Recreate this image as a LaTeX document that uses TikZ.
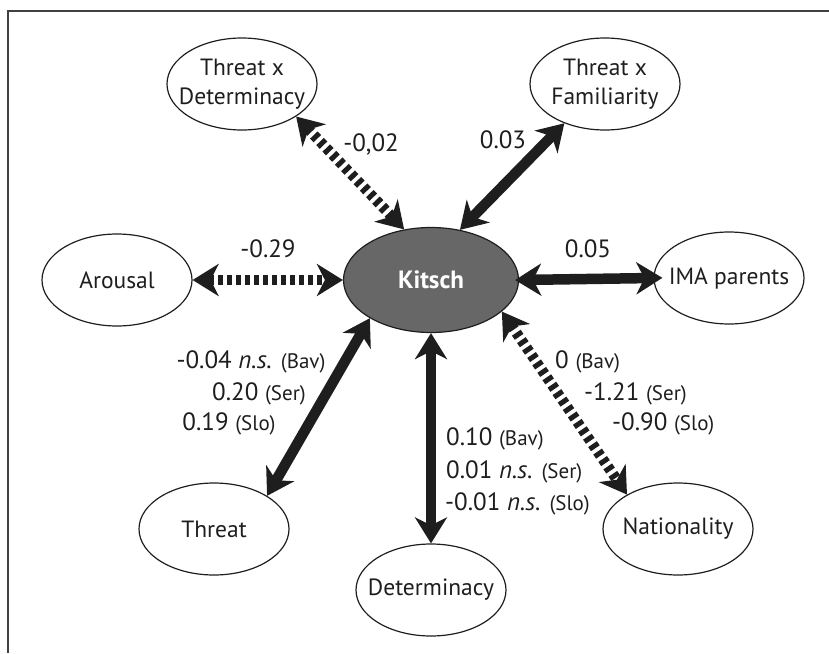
\documentclass[tikz,border=0pt]{standalone}
\usepackage{fontspec}
\setmainfont{PT Sans}
\usetikzlibrary{arrows.meta,shapes.geometric}
\definecolor{ink}{HTML}{1E1E1E}
\definecolor{kitschgray}{HTML}{676767}
\newcommand{\numfont}{\fontsize{25}{28}\selectfont}
\newcommand{\subfont}{\fontsize{21}{24}\selectfont}
\newcommand{\varfont}{\fontsize{23.5}{29}\selectfont}
\begin{document}
\begin{tikzpicture}[x=1pt,y=-1pt,
  var/.style={ellipse, draw=ink, line width=1.2pt, minimum width=150pt, minimum height=92pt,
    inner xsep=-15pt, inner ysep=0pt, align=center, font=\varfont, text=ink},
  solidlink/.style={line width=10.5pt, draw=ink,
    {Stealth[length=26pt,width=32pt,inset=8pt]}-{Stealth[length=26pt,width=32pt,inset=8pt]}},
  dashlink/.style={solidlink, dash pattern=on 5pt off 4pt},
  lab/.style={font=\numfont, text=ink, inner sep=0pt},
]
\useasboundingbox (0,0) rectangle (829,653);
\draw[line width=1.8pt, draw=black!75] (829,11) -- (8,11) -- (8,653);

\node[var] (txd) at (242,84) {Threat x\\Determinacy};
\node[var] (txf) at (605,84) {Threat x\\Familiarity};
\node[var] (arousal) at (117,280) {Arousal};
\node[var] (ima) at (729,278) {IMA parents};
\node[var] (threat) at (214,529) {Threat};
\node[var] (det) at (431,590) {Determinacy};
\node[var] (nat) at (678,529) {Nationality};
\node[ellipse, draw=ink, line width=1.2pt, fill=kitschgray, minimum width=175pt, minimum height=105pt,
  inner sep=0pt, text=white, font=\fontsize{25}{29}\selectfont\bfseries] (kitsch) at (431,280) {Kitsch};

\draw[dashlink] (txd.-31) -- (kitsch.118);
\draw[solidlink] (txf.224) -- (kitsch.60);
\draw[dashlink] (arousal.east) -- (kitsch.west);
\draw[solidlink, shorten <=-4pt, shorten >=-9pt] (kitsch.east) -- (ima.west);
\draw[solidlink] (kitsch.212) -- (threat.32);
\draw[solidlink] (kitsch.south) -- (det.north);
\draw[dashlink] (kitsch.-24) -- (nat.146);

\node[lab, anchor=base] (l1) at (371,151) {-0,02};
\node[lab, anchor=base] (l2) at (503,148) {0.03};
\node[lab, anchor=base] (l3) at (268,257) {-0.29};
\node[lab, anchor=base] (l4) at (588,257) {0.05};

\node[lab, anchor=base] (t1) at (251,368) {-0.04 \textit{n.s.} {\subfont (Bav)}};
\node[lab, anchor=base] (t2) at (259,400) {0.20 {\subfont (Ser)}};
\node[lab, anchor=base] (t3) at (229,430) {0.19 {\subfont (Slo)}};

\node[lab, anchor=base west] (d1) at (446,445) {0.10 {\subfont (Bav)}};
\node[lab, anchor=base west] (d2) at (446,478) {0.01 \textit{n.s.} {\subfont (Ser)}};
\node[lab, anchor=base west] (d3) at (445,510) {-0.01 \textit{n.s.} {\subfont (Slo)}};

\node[lab, anchor=base west] (n1) at (555,368) {0 {\subfont (Bav)}};
\node[lab, anchor=base west] (n2) at (584,400) {-1.21 {\subfont (Ser)}};
\node[lab, anchor=base west] (n3) at (612,430) {-0.90 {\subfont (Slo)}};
\end{tikzpicture}
\end{document}
